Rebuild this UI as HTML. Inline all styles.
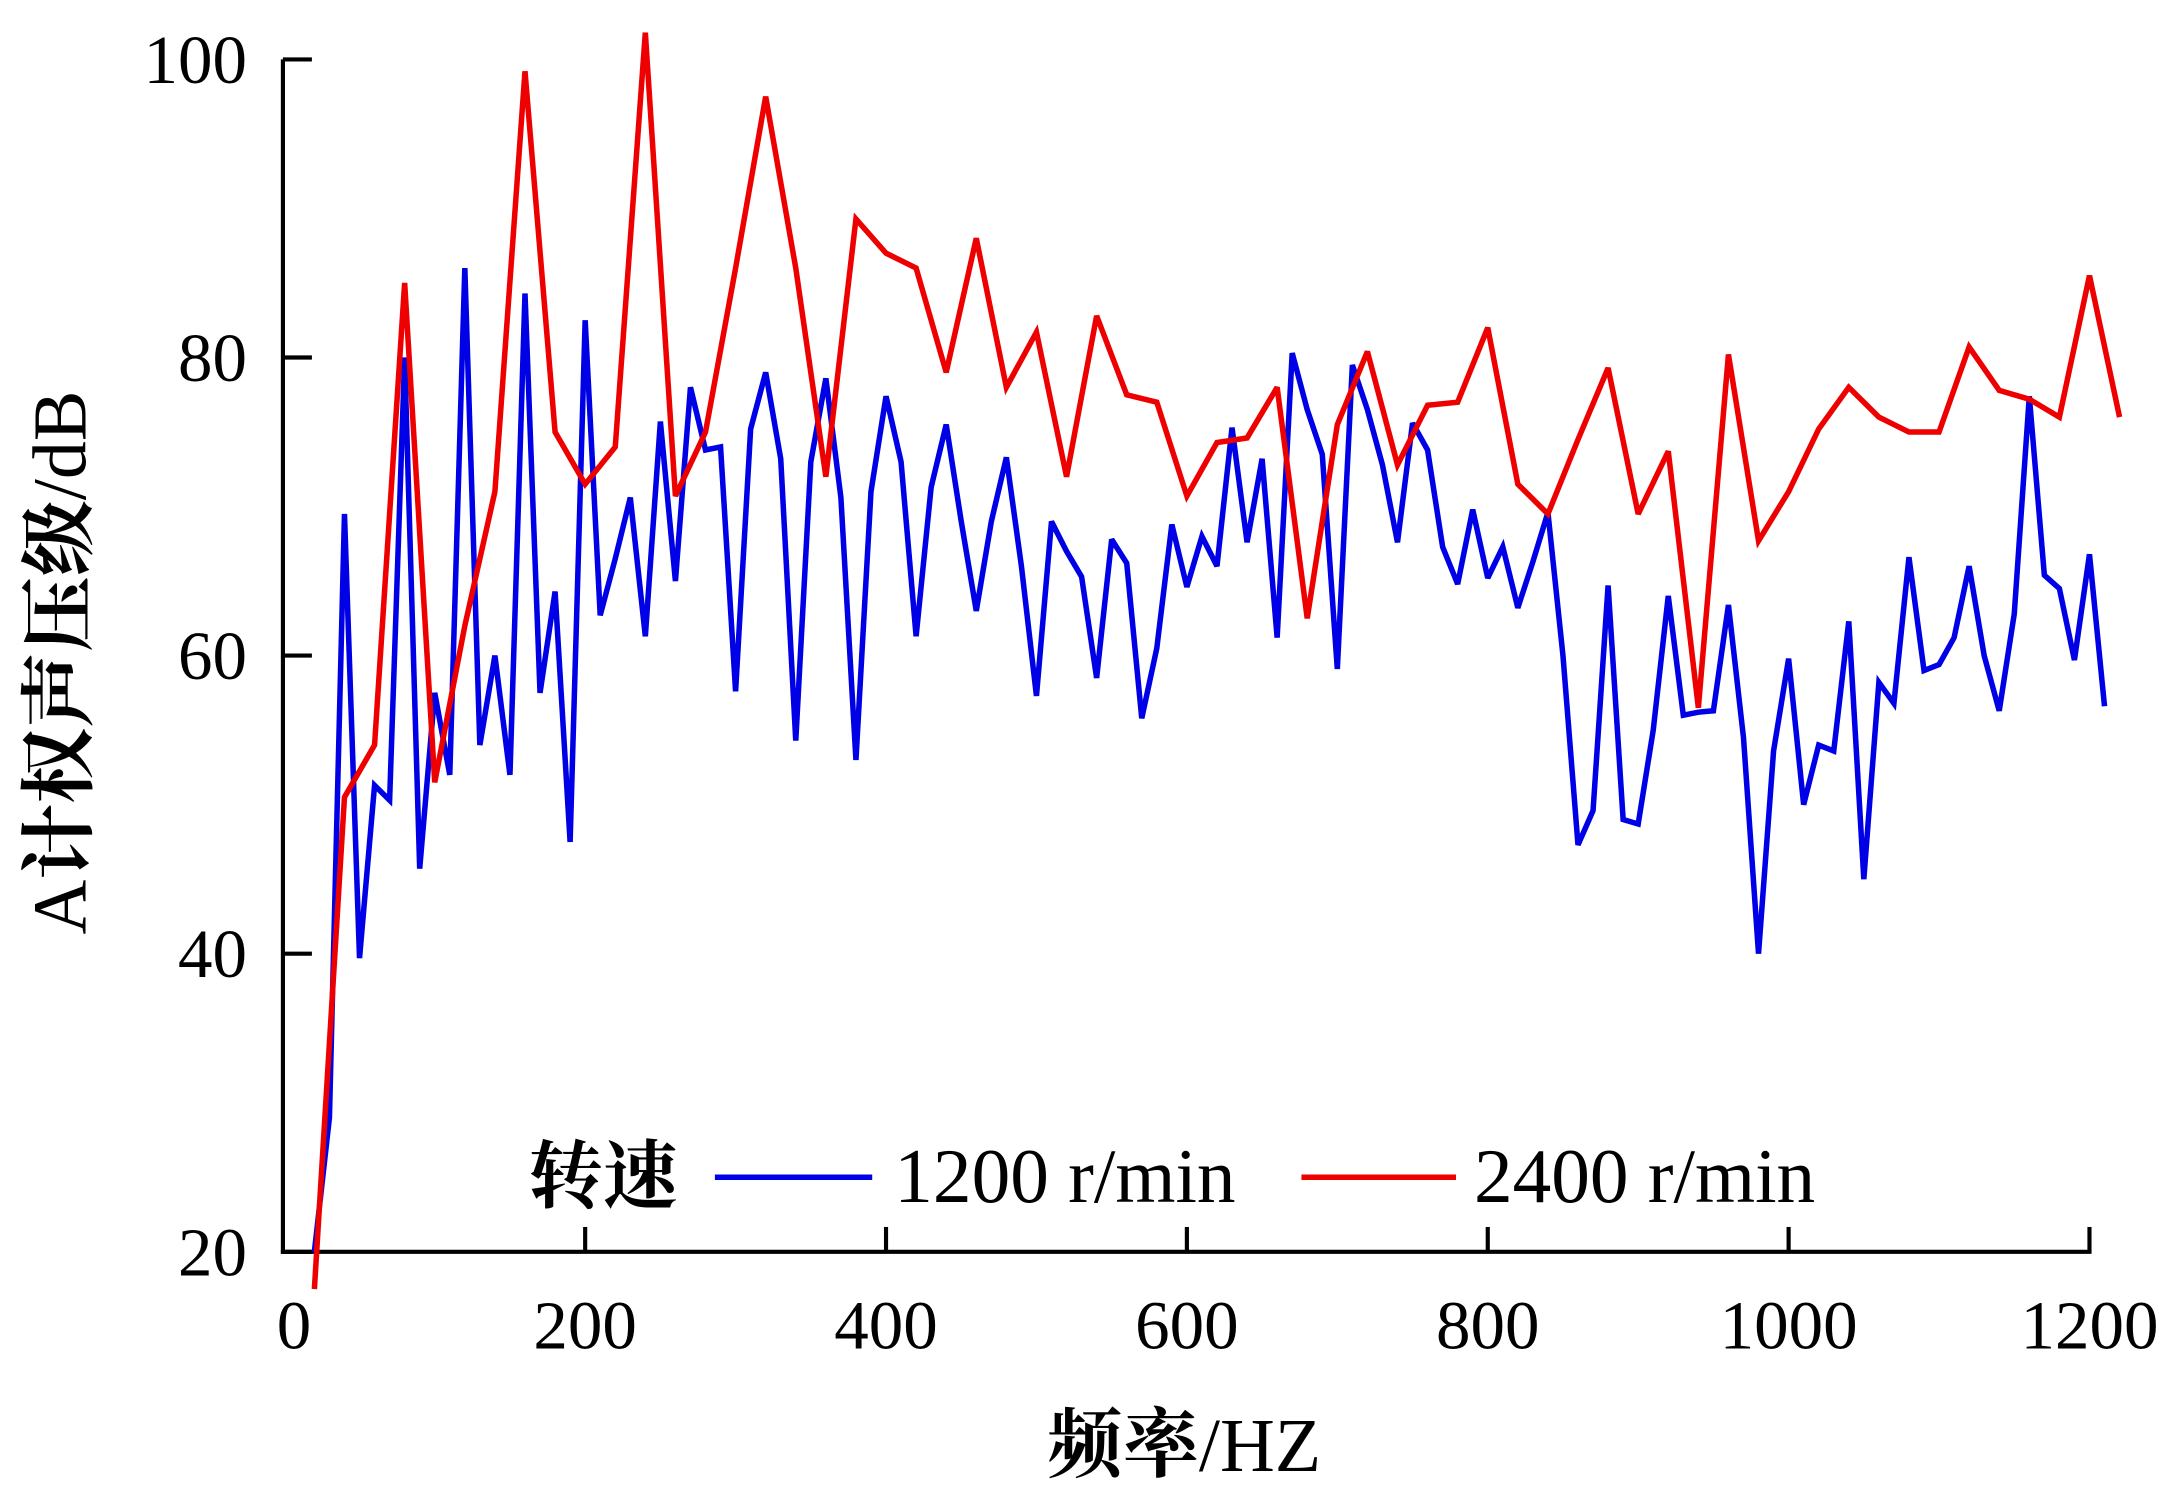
<!DOCTYPE html>
<html><head><meta charset="utf-8">
<style>
html,body{margin:0;padding:0;background:#fff;}
svg{display:block;}
text{font-family:"Liberation Serif","Noto Serif CJK SC","Noto Sans CJK SC",serif;fill:#000;}
.cjk{font-weight:bold;}
</style></head>
<body>
<svg id="chart" width="2164" height="1492" viewBox="0 0 1568 1081" xmlns="http://www.w3.org/2000/svg">
<g id="axes"></g>
<g id="series"></g>
<text x="858" y="1066" font-size="55" text-anchor="middle"><tspan class="cjk">频率</tspan>/HZ</text>
<text transform="translate(62,480) rotate(-90)" font-size="55" text-anchor="middle">A<tspan class="cjk">计权声压级</tspan>/dB</text>
<g>
<text class="cjk" x="383" y="871" font-size="54">转速</text>
<line x1="518" y1="853" x2="632" y2="853" stroke="#0000e6" stroke-width="4"/>
<text x="648" y="871" font-size="56">1200 r/min</text>
<line x1="943" y1="853" x2="1055" y2="853" stroke="#ee0000" stroke-width="4"/>
<text x="1068" y="871" font-size="56">2400 r/min</text>
</g>
</svg>
<script>
const xTicks = [0,200,400,600,800,1000,1200];
const yTicks = [20,40,60,80,100];
const freq1200 = [20,30,40,50,60,70,80,90,100,110,120,130,140,150,160,170,180,190,200,210,220,230,240,250,260,270,280,290,300,310,320,330,340,350,360,370,380,390,400,410,420,430,440,450,460,470,480,490,500,510,520,530,540,550,560,570,580,590,600,610,620,630,640,650,660,670,680,690,700,710,720,730,740,750,760,770,780,790,800,810,820,830,840,850,860,870,880,890,900,910,920,930,940,950,960,970,980,990,1000,1010,1020,1030,1040,1050,1060,1070,1080,1090,1100,1110,1120,1130,1140,1150,1160,1170,1180,1190,1200,1210];
const spl1200 = [20,29,69.5,39.7,51.3,50.3,80,45.7,57.5,52,86,54,60,52,84.3,57.5,64.3,47.5,82.5,62.7,66.5,70.6,61.3,75.7,65,78,73.8,74,57.6,75.2,79,73.2,54.3,73,78.6,70.6,53,71,77.4,73,61.3,71.3,75.5,69,63,69,73.3,66,57.3,69,67,65.3,58.5,67.8,66.2,55.8,60.5,68.8,64.6,68,66,75.3,67.6,73.2,61.2,80.3,76.5,73.5,59.1,79.5,76.5,72.8,67.6,75.6,73.8,67.3,64.8,69.8,65.2,67.3,63.2,66.3,69.6,60,47.3,49.6,64.7,49,48.7,55,64,56,56.2,56.3,63.4,54.5,40,53.6,59.8,50,54,53.6,62.3,45,58.2,56.8,66.6,59,59.4,61.2,66,60,56.3,62.8,77.4,65.4,64.5,59.7,66.8,56.6];
const freq2400 = [20,40,60,80,100,120,140,160,180,200,220,240,260,280,300,320,340,360,380,400,420,440,460,480,500,520,540,560,580,600,620,640,660,680,700,720,740,760,780,800,820,840,860,880,900,920,940,960,980,1000,1020,1040,1060,1080,1100,1120,1140,1160,1180,1200,1220];
const spl2400 = [17.5,50.5,54,85,51.5,62,71,99.2,75,71.5,74,101.8,70.7,75,86,97.5,86,72,89.3,87,86,79,88,78,81.7,72,82.8,77.5,77,70.7,74.3,74.6,78,62.5,75.5,80.4,72.8,76.8,77,82,71.5,69.5,74.5,79.3,69.5,73.7,56.5,80.2,67.7,71,75.2,78,76,75,75,80.7,77.8,77.2,76,85.5,76];

const NS = "http://www.w3.org/2000/svg";
const X0 = 206, XPX = 1.09;
const Y0 = 907, YPX = 10.8;
function xs(v){ return X0 + v * XPX; }
function ys(v){ return Y0 - (v - 20) * YPX; }
function mk(tag, attrs){ const e = document.createElementNS(NS, tag); for (const k in attrs) e.setAttribute(k, attrs[k]); return e; }

const axes = document.getElementById('axes');
const yAxis = mk('path', {d:`M205 ${ys(100)} L205 ${Y0+1.5}`, stroke:'#000', 'stroke-width':3, fill:'none'});


axes.appendChild(yAxis);
const xAxis = mk('path', {d:`M203.5 ${Y0} L${xs(1200)+1.5} ${Y0}`, stroke:'#000', 'stroke-width':3, fill:'none'});


axes.appendChild(xAxis);

yTicks.forEach(t => {
  const l = mk('line', {x1:205, x2:226, y1:ys(t), y2:ys(t), stroke:'#000', 'stroke-width':3});
  
  
  axes.appendChild(l);
  const tx = mk('text', {x:179, y:ys(t)+17, 'font-size':50, 'text-anchor':'end'});
  tx.textContent = t;
  
  
  axes.appendChild(tx);
});
xTicks.forEach(t => {
  if (t > 0) {
    const l = mk('line', {x1:xs(t), x2:xs(t), y1:Y0, y2:Y0-18, stroke:'#000', 'stroke-width':3});
    
    
    axes.appendChild(l);
  }
  const tx = mk('text', {x:xs(t)+(t===0?7:0), y:977, 'font-size':50, 'text-anchor':'middle'});
  tx.textContent = t;
  
  
  axes.appendChild(tx);
});

const series = document.getElementById('series');
function line(fx, fy, color, name){
  const d = fx.map((f,i)=>(i?'L':'M')+xs(f).toFixed(1)+' '+ys(fy[i]).toFixed(1)).join(' ');
  const p = mk('path', {d:d, stroke:color, 'stroke-width':4, fill:'none', 'stroke-linejoin':'miter', 'stroke-miterlimit':3});
  
  
  series.appendChild(p);
}
line(freq1200, spl1200, '#0000e6', 'series-1200-rpm');
line(freq2400, spl2400, '#ee0000', 'series-2400-rpm');
</script>
</body></html>
